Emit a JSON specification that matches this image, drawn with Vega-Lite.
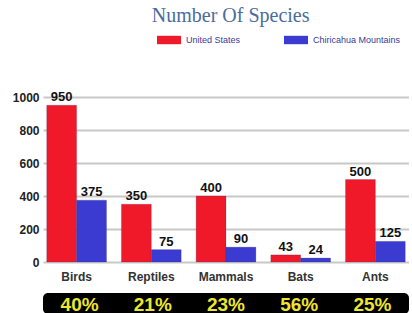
{
  "$schema": "https://vega.github.io/schema/vega-lite/v6.json",
  "padding": {"left": 12, "top": 6, "right": 0, "bottom": 0},
  "title": {"text": "Number Of Species", "font": "Liberation Serif", "fontSize": 20, "fontWeight": "normal", "color": "#4a6c9c", "anchor": "middle", "dx": 20, "offset": 2},
  "datasets": {
    "species": [
      {"category": "Birds", "series": "United States", "value": 950},
      {"category": "Birds", "series": "Chiricahua Mountains", "value": 375},
      {"category": "Reptiles", "series": "United States", "value": 350},
      {"category": "Reptiles", "series": "Chiricahua Mountains", "value": 75},
      {"category": "Mammals", "series": "United States", "value": 400},
      {"category": "Mammals", "series": "Chiricahua Mountains", "value": 90},
      {"category": "Bats", "series": "United States", "value": 43},
      {"category": "Bats", "series": "Chiricahua Mountains", "value": 24},
      {"category": "Ants", "series": "United States", "value": 500},
      {"category": "Ants", "series": "Chiricahua Mountains", "value": 125}
    ],
    "pct": [
      {"category": "Birds", "pct": "40%"},
      {"category": "Reptiles", "pct": "21%"},
      {"category": "Mammals", "pct": "23%"},
      {"category": "Bats", "pct": "56%"},
      {"category": "Ants", "pct": "25%"}
    ]
  },
  "vconcat": [
    {
      "width": 366,
      "height": 165,
      "data": {"name": "species"},
      "encoding": {
        "x": {
          "field": "category", "type": "nominal",
          "sort": ["Birds", "Reptiles", "Mammals", "Bats", "Ants"],
          "scale": {"paddingInner": 0.2, "paddingOuter": 0.05},
          "axis": {"title": null, "labelAngle": 0, "labelFontWeight": "bold", "labelFontSize": 12, "labelColor": "#333", "labelPadding": 9, "ticks": false, "domain": false}
        },
        "xOffset": {"field": "series", "sort": ["United States", "Chiricahua Mountains"]},
        "y": {
          "field": "value", "type": "quantitative",
          "scale": {"domain": [0, 1000]},
          "axis": {"title": null, "format": "d", "values": [0, 200, 400, 600, 800, 1000], "labelFontWeight": "bold", "labelFontSize": 12, "labelColor": "#222", "labelPadding": 4, "ticks": false, "domain": false, "gridColor": "#c8c8c8", "gridWidth": 2}
        }
      },
      "layer": [
        {
          "mark": {"type": "bar", "stroke": "#222266", "strokeWidth": 0.5, "strokeOpacity": 0.4},
          "encoding": {
            "color": {
              "field": "series", "type": "nominal",
              "scale": {"domain": ["United States", "Chiricahua Mountains"], "range": ["#f0192a", "#3b3bd2"]},
              "legend": {
                "orient": "none", "legendX": 114, "legendY": -69, "direction": "horizontal", "title": null,
                "symbolType": "M-1,-0.35H1V0.35H-1Z", "symbolSize": 576, "symbolStrokeWidth": 0,
                "labelFont": "Liberation Sans", "labelFontSize": 9, "labelColor": "#3a3a9a", "columnPadding": 43, "labelOffset": 5,
                "encode": {"symbols": {"update": {"fill": {"signal": "datum.value === 'United States' ? '#b31212' : '#4444b6'"}, "opacity": {"value": 1}}}}
              }
            }
          }
        },
        {
          "mark": {"type": "text", "dy": -8, "fontWeight": "bold", "fontSize": 13, "color": "#111", "font": "Liberation Sans"},
          "encoding": {"text": {"field": "value", "type": "quantitative"}}
        }
      ]
    },
    {
      "width": 366,
      "height": 21,
      "data": {"name": "pct"},
      "view": {"fill": "#000000", "stroke": null, "cornerRadius": 5},
      "mark": {"type": "text", "color": "#eee62e", "fontSize": 19, "fontWeight": "bold", "baseline": "middle", "dy": 1, "font": "Liberation Sans"},
      "encoding": {
        "x": {"field": "category", "type": "nominal", "sort": ["Birds", "Reptiles", "Mammals", "Bats", "Ants"], "scale": {"paddingInner": 0.2, "paddingOuter": 0.05}, "axis": null},
        "text": {"field": "pct"}
      }
    }
  ],
  "spacing": 11,
  "config": {"view": {"stroke": null}, "font": "Liberation Sans"}
}
